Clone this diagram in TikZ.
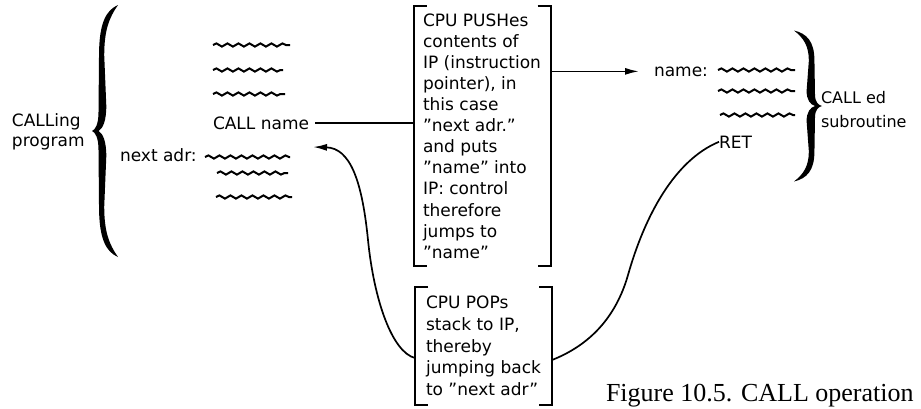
\documentclass[tikz,border=0pt]{standalone}
\usepackage{fontspec}
\setmainfont{DejaVu Sans}
\newfontfamily\captionfont{Liberation Serif}
\usepackage{tikz}
\usetikzlibrary{arrows.meta,decorations.pathmorphing}

% curly brace in unit coordinates, tip at (0,0), ends at (1,1) and (1,-1)
\newcommand{\curlybrace}{(1,1) .. controls (0.55,0.96) and (0.27,0.86) .. (0.27,0.6) -- (0.25,0.15)
  .. controls (0.25,0.05) and (0.12,0.01) .. (0,0) .. controls (0.12,-0.01) and (0.25,-0.05) .. (0.25,-0.15)
  -- (0.27,-0.6) .. controls (0.27,-0.86) and (0.55,-0.96) .. (1,-1)
  .. controls (0.66,-0.9) and (0.47,-0.8) .. (0.47,-0.6) -- (0.55,-0.2)
  .. controls (0.55,-0.08) and (0.42,-0.02) .. (0.25,0) .. controls (0.42,0.02) and (0.55,0.08) .. (0.55,0.2)
  -- (0.47,0.6) .. controls (0.47,0.8) and (0.66,0.9) .. (1,1) -- cycle}

\begin{document}
\begin{tikzpicture}[x=1pt,y=-1pt,
  lbl/.style={inner sep=0pt,outer sep=0pt,anchor=base west,font=\fontsize{17}{20}\selectfont},
  boxtxt/.style={inner xsep=0pt,inner ysep=1pt,minimum width=137pt,align=left},
  bracketline/.style={line width=2pt},
  squiggle/.style={line width=2pt,decorate,decoration={snake,segment length=11pt,amplitude=1.6pt}},
  conn/.style={line width=1.7pt},
  arrowto/.style={-{Latex[length=14pt,width=7pt]}}]
\path[use as bounding box] (0,0) rectangle (921,408);
\path[fill=white,draw=none] (0,0) rectangle (921,408);

% braces
\fill[shift={(92,131)},xscale=26,yscale=126] \curlybrace;
\fill[shift={(822,106)},xscale=-28,yscale=75.5] \curlybrace;

% calling program
\node[lbl,align=left] (calling) at (12,146) {CALLing\\program};
\node[lbl] (nextadr) at (120,161) {next adr:};
\node[lbl] (callname) at (213,129) {CALL name};
\foreach \y/\a/\b in {45/213/290, 70/213/283, 94/213/285, 157/205/290, 173/217/288, 197/216/292}
  \draw[squiggle] (\a,\y) -- (\b,\y);

% subroutine
\node[lbl] (namelbl) at (654,76) {name:};
\node[lbl] (ret) at (719,148) {RET};
\foreach \y/\a/\b in {70/718/795, 91/718/795, 115/720/795}
  \draw[squiggle] (\a,\y) -- (\b,\y);
\node[lbl,align=left,font=\fontsize{16}{24}\selectfont] (called) at (821,127) {CALL ed\\subroutine};

% the two notes
\node[lbl,boxtxt,anchor=center,font=\fontsize{17}{21.1}\selectfont,minimum height=260pt] (push) at (482,136)
  {CPU PUSHes\\contents of\\IP (instruction\\pointer), in\\this case\\''next adr.''\\and puts\\''name'' into\\IP: control\\therefore\\jumps to\\''name''};
\node[lbl,boxtxt,anchor=center,font=\fontsize{17}{21.7}\selectfont,minimum height=118pt] (pop) at (483.5,346)
  {CPU POPs\\stack to IP,\\thereby\\jumping back\\to ''next adr''};
\foreach \b in {push,pop}{
  \draw[bracketline] ([xshift=13pt]\b.north west) -- (\b.north west) -- (\b.south west) -- ([xshift=13pt]\b.south west);
  \draw[bracketline] ([xshift=-13pt]\b.north east) -- (\b.north east) -- (\b.south east) -- ([xshift=-13pt]\b.south east);
}

% connectors
\coordinate (backtip) at (313,147);
\draw[conn,shorten <=6pt] (callname.east) -- (callname.east -| push.west);
\draw[conn,arrowto,shorten >=15pt] (push.east |- namelbl.west) -- (namelbl.west);
\draw[conn,arrowto] ([yshift=-12pt]pop.west) .. controls (392,352) and (374,300) .. (368,240)
  .. controls (362,180) and (350,148) .. (backtip);
\draw[conn] ([yshift=-14pt]pop.east) .. controls (590,345) and (616,317) .. (628,275)
  .. controls (645,215) and (675,160) .. (ret.west);

\node[inner sep=0pt,outer sep=0pt,anchor=base west,font=\captionfont\fontsize{26}{30}\selectfont] (caption) at (606,401) {Figure 10.5. CALL operation};
\end{tikzpicture}
\end{document}
